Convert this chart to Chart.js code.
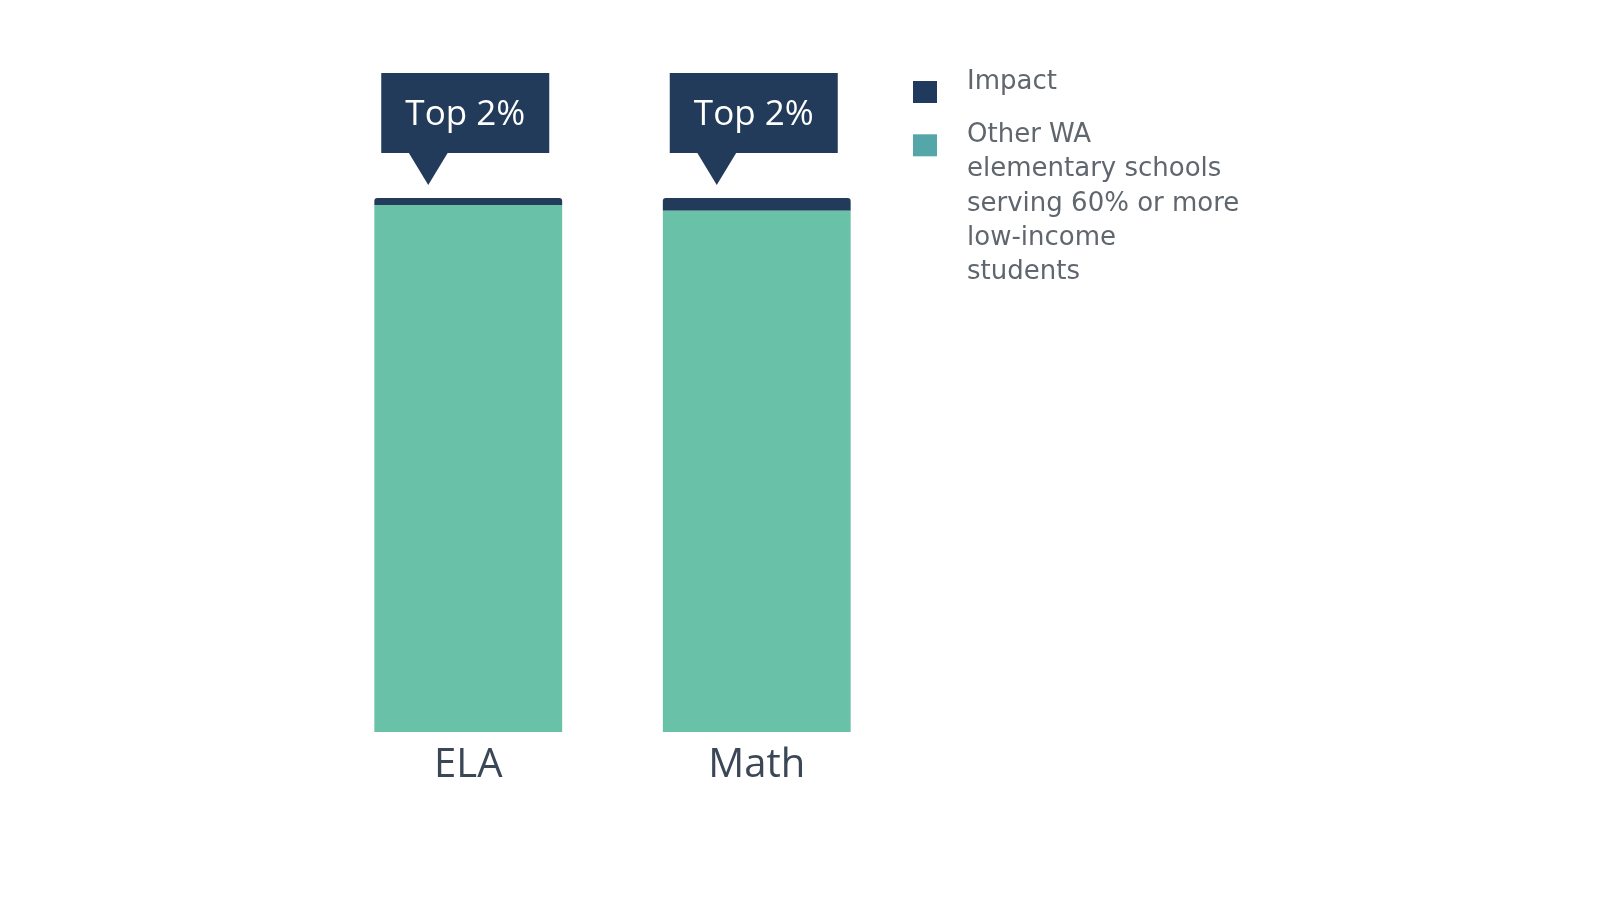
<!DOCTYPE html>
<html>
<head>
<meta charset="utf-8">
<script src="https://cdn.jsdelivr.net/npm/chart.js@4/dist/chart.umd.min.js"></script>
<style>
  html, body { margin: 0; padding: 0; background: #fff; }
  #wrap { width: 1600px; height: 900px; position: relative; }
</style>
</head>
<body>
<div id="wrap"><canvas id="grafico"></canvas></div>
<script>
const CATEGORIAS = ["ELA", "Math"];
const IMPACT = [1.3, 2.4];
const OUTRAS = [98.7, 97.6];
const CALLOUTS = ["Top 2%", "Top 2%"];
const LEGENDA = [
    { linhas: ["Impact"], cor: "#1f3a5c" },
    { linhas: ["Other WA", "elementary schools", "serving 60% or more", "low-income", "students"], cor: "#55a6a8" }
];

const FONTE = '"Open Sans", "Noto Sans", sans-serif';
const FONTE_LEG = '"DejaVu Sans", "Open Sans", sans-serif';

// balão "Top 2%" acima de cada barra
const pluginCallout = {
    id: 'callout',
    afterDatasetsDraw(chart) {
        const ctx = chart.ctx;
        const barras = chart.getDatasetMeta(1).data;
        barras.forEach((bar, i) => {
            const cx = bar.x - 3;
            const w = 168, h = 80;
            const x0 = cx - w / 2;
            const y1 = bar.y - 45;
            const y0 = y1 - h;
            const tip = cx - 37;
            ctx.save();
            ctx.fillStyle = "#233b5a";
            ctx.fillRect(x0, y0, w, h);
            ctx.beginPath();
            ctx.moveTo(tip - 20, y1 - 1);
            ctx.lineTo(tip + 20, y1 - 1);
            ctx.lineTo(tip, y1 + 32);
            ctx.closePath();
            ctx.fill();
            ctx.fillStyle = "#ffffff";
            ctx.font = "500 35px " + FONTE;
            ctx.textAlign = "center";
            ctx.textBaseline = "middle";
            ctx.fillText(CALLOUTS[i], cx, y0 + h / 2 + 2);
            ctx.restore();
        });
    }
};

// legenda com quebras de linha
const pluginLegenda = {
    id: 'legendaCustom',
    afterDraw(chart) {
        const ctx = chart.ctx;
        ctx.save();
        ctx.font = "26px " + FONTE_LEG;
        ctx.textAlign = "left";
        ctx.textBaseline = "middle";
        let y = 81;
        LEGENDA.forEach((item) => {
            ctx.fillStyle = item.cor;
            ctx.fillRect(913, y, 24, 22);
            ctx.fillStyle = "#60666e";
            item.linhas.forEach((linha, j) => {
                ctx.fillText(linha, 967, y + 1 + j * 34.3);
            });
            y += item.linhas.length * 34.3 + 19;
        });
        ctx.restore();
    }
};

const __grafico = new Chart(document.getElementById('grafico'), {
    type: 'bar',
    data: {
        labels: CATEGORIAS,
        datasets: [
            {
                label: "Other WA elementary schools serving 60% or more low-income students",
                data: OUTRAS,
                backgroundColor: "#69c1a7",
                barPercentage: 0.651,
                categoryPercentage: 1
            },
            {
                label: "Impact",
                data: IMPACT,
                backgroundColor: "#233b5a",
                barPercentage: 0.651,
                categoryPercentage: 1,
                borderRadius: { topLeft: 3, topRight: 3, bottomLeft: 0, bottomRight: 0 },
                borderSkipped: false
            }
        ]
    },
    options: {
        responsive: true,
        maintainAspectRatio: false,
        animation: false,
        layout: { padding: { left: 324, right: 699, top: 198, bottom: 100 } },
        plugins: { legend: { display: false }, tooltip: { enabled: false } },
        scales: {
            x: {
                stacked: true,
                grid: { display: false, drawTicks: false },
                border: { display: false },
                ticks: { color: "#3b4757", font: { size: 40, family: FONTE }, padding: 10 }
            },
            y: {
                stacked: true,
                display: false,
                min: 0,
                max: 100
            }
        }
    },
    plugins: [pluginCallout, pluginLegenda]
});
</script>
</body>
</html>
